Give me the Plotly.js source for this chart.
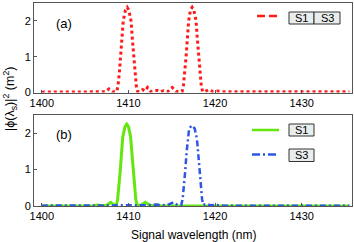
<!DOCTYPE html>
<html>
<head>
<meta charset="utf-8">
<script src="https://cdn.plot.ly/plotly-3.0.1.min.js"></script>
<style>html,body{margin:0;padding:0;background:#fff;}#chart{width:354px;height:242px;}</style>
</head>
<body>
<div id="chart"></div>
<script>
// Panel (a): S1 and S3 together (red dotted)
const topWavelength = [1400, 1402, 1404, 1405.5, 1406.5, 1407.3, 1407.75, 1408.2, 1408.65, 1408.8, 1408.95, 1409.1, 1409.25, 1409.4, 1409.65, 1409.85, 1410.05, 1410.3, 1410.45, 1410.6, 1410.75, 1410.9, 1411.05, 1411.3, 1411.65, 1411.9, 1412.2, 1412.55, 1412.9, 1413.3, 1413.7, 1414.05, 1414.5, 1415.05, 1415.5, 1415.9, 1416.2, 1416.35, 1416.5, 1416.65, 1416.8, 1416.95, 1417.15, 1417.35, 1417.55, 1417.8, 1417.95, 1418.1, 1418.25, 1418.4, 1418.55, 1418.8, 1419.25, 1419.7, 1420.2, 1421, 1423, 1426, 1429, 1432, 1435.5];
const topS1S3 = [0.01, 0.01, 0.01, 0.02, 0.03, 0.02, 0.10, 0.02, 0.03, 0.20, 0.55, 1.00, 1.50, 2.00, 2.30, 2.38, 2.30, 2.00, 1.50, 1.00, 0.55, 0.20, 0.03, 0.02, 0.08, 0.04, 0.14, 0.03, 0.04, 0.06, 0.02, 0.05, 0.02, 0.14, 0.03, 0.04, 0.03, 0.20, 0.55, 1.00, 1.50, 2.00, 2.30, 2.38, 2.30, 2.00, 1.50, 1.00, 0.55, 0.20, 0.03, 0.02, 0.08, 0.03, 0.04, 0.02, 0.02, 0.02, 0.02, 0.02, 0.02];

// Panel (b): S1 (green solid)
const s1Wavelength = [1400, 1403, 1405, 1406, 1406.4, 1406.9, 1407.5, 1407.95, 1408.4, 1408.6, 1408.75, 1408.9, 1409.05, 1409.2, 1409.35, 1409.6, 1409.8, 1410.0, 1410.25, 1410.4, 1410.55, 1410.7, 1410.85, 1411.0, 1411.4, 1411.95, 1412.45, 1412.8, 1413.2, 1413.7, 1414.5, 1416, 1420, 1425, 1430, 1435.5];
const s1Power = [0.0, 0.0, 0.01, 0.01, 0.03, 0.01, 0.02, 0.10, 0.02, 0.02, 0.18, 0.50, 0.95, 1.45, 1.90, 2.18, 2.25, 2.18, 1.90, 1.45, 0.95, 0.50, 0.18, 0.02, 0.02, 0.10, 0.02, 0.01, 0.03, 0.01, 0.01, 0.0, 0.0, 0.0, 0.0, 0.0];

// Panel (b): S3 (blue dash-dot)
const s3Wavelength = [1400, 1404, 1407, 1410, 1412, 1413.2, 1413.8, 1414.5, 1415.2, 1415.7, 1416.1, 1416.25, 1416.4, 1416.55, 1416.7, 1416.85, 1417.0, 1417.25, 1417.45, 1417.65, 1417.9, 1418.05, 1418.2, 1418.35, 1418.5, 1418.65, 1419.0, 1419.4, 1420, 1421, 1424, 1428, 1432, 1435.5];
const s3Power = [0.01, 0.01, 0.01, 0.01, 0.02, 0.04, 0.02, 0.03, 0.10, 0.02, 0.03, 0.18, 0.50, 0.95, 1.45, 1.85, 2.12, 2.20, 2.20, 2.12, 1.85, 1.45, 0.95, 0.50, 0.18, 0.03, 0.06, 0.02, 0.03, 0.01, 0.01, 0.01, 0.01, 0.01];

const xTicks = [1400, 1410, 1420, 1430];
const yTicks = [0, 1, 2];
const legendLabels = ['S1', 'S3'];
const panelLabels = ['(a)', '(b)'];

const RED = '#ff1a1a', GREEN = '#66e60f', BLUE = '#2e55e6', FRAME = '#555555';
const FONT = 'Liberation Sans, Arial, Helvetica, sans-serif';

const W = 354, H = 242, ML = 34, MR = 2, MT = 3, MB = 36;
const PW = W - ML - MR, PH = H - MT - MB;
const px = x => (x - ML) / PW;
const py = y => (H - MB - y) / PH;

const traces = [
  {x: topWavelength, y: topS1S3, xaxis: 'x2', yaxis: 'y2', mode: 'lines', name: 'S1 S3',
   line: {color: RED, width: 3, dash: 'dot'}, showlegend: false},
  {x: s1Wavelength, y: s1Power, xaxis: 'x', yaxis: 'y', mode: 'lines', name: 'S1',
   line: {color: GREEN, width: 3}, showlegend: false},
  {x: s3Wavelength, y: s3Power, xaxis: 'x', yaxis: 'y', mode: 'lines', name: 'S3',
   line: {color: BLUE, width: 2.5, dash: '6px,3px,2px,3px'}, showlegend: false}
];

const axBase = {
  showline: true, mirror: true, linecolor: FRAME, linewidth: 1,
  ticks: 'inside', ticklen: 3, tickcolor: FRAME, showgrid: false, zeroline: false,
  tickfont: {family: FONT, size: 11, color: '#000'}
};
const xRange = [1399.1, 1435.8];
const yRange = [0, 2.5];

const box = (x0, x1, y0, y1) => ({type: 'rect', xref: 'paper', yref: 'paper',
  x0: px(x0), x1: px(x1), y0: py(y1), y1: py(y0), fillcolor: '#e9eded', line: {color: '#333', width: 1}});
const seg = (x0, x1, y, color, dash, width) => ({type: 'line', xref: 'paper', yref: 'paper',
  x0: px(x0), x1: px(x1), y0: py(y), y1: py(y), line: {color: color, width: width, dash: dash}});
const lab = (text, x, y, size) => ({text: text, xref: 'paper', yref: 'paper', x: px(x), y: py(y),
  showarrow: false, xanchor: 'center', yanchor: 'middle', font: {family: FONT, size: size, color: '#000'}});

const layout = {
  width: W, height: H, margin: {l: ML, r: MR, t: MT, b: MB},
  paper_bgcolor: '#fff', plot_bgcolor: '#fff', showlegend: false,
  xaxis: Object.assign({}, axBase, {domain: [0, 1], anchor: 'y', range: xRange, tickvals: xTicks}),
  yaxis: Object.assign({}, axBase, {domain: [0, py(115)], anchor: 'x', range: yRange, tickvals: yTicks}),
  xaxis2: Object.assign({}, axBase, {domain: [0, 1], anchor: 'y2', range: xRange, tickvals: xTicks}),
  yaxis2: Object.assign({}, axBase, {domain: [py(92.5), 1], anchor: 'x2', range: yRange, tickvals: yTicks}),
  shapes: [
    seg(257, 278, 16, RED, '8px,4px', 2.5),
    box(289, 314, 12, 24), box(314, 340, 12, 24),
    seg(252, 279, 130, GREEN, 'solid', 2.5),
    box(289, 314, 124, 136),
    seg(252, 279, 154.5, BLUE, '8px,3px,2px,3px', 2.5),
    box(289, 314, 149, 161.5)
  ],
  annotations: [
    lab(legendLabels[0], 301.5, 18, 11), lab(legendLabels[1], 327, 18, 11),
    lab(legendLabels[0], 301.5, 130, 11), lab(legendLabels[1], 301.5, 155.2, 11),
    lab(panelLabels[0], 64, 24, 13), lab(panelLabels[1], 64, 134, 13),
    lab('Signal wavelength (nm)', 193, 235, 12),
    {text: '|ϕ(λ<sub>s</sub>)|<sup>2</sup> (m<sup>2</sup>)', textangle: -90, xref: 'paper', yref: 'paper',
     x: px(10), y: py(99), showarrow: false, xanchor: 'center', yanchor: 'middle',
     font: {family: FONT, size: 12.5, color: '#000'}}
  ]
};

Plotly.newPlot('chart', traces, layout, {staticPlot: true, displayModeBar: false});
</script>
</body>
</html>
